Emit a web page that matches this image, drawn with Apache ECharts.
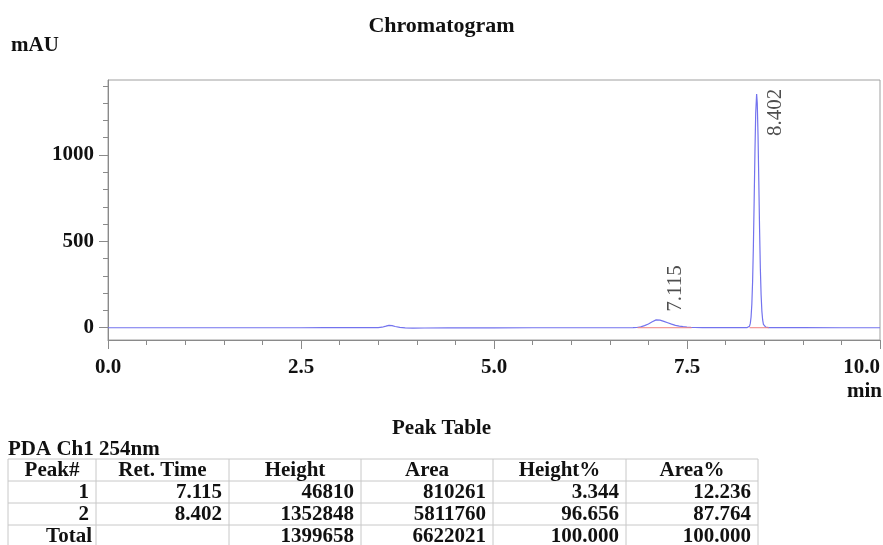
<!DOCTYPE html>
<html><head><meta charset="utf-8">
<script src="https://cdn.jsdelivr.net/npm/echarts@6/dist/echarts.min.js"></script>
<style>html,body{margin:0;padding:0;background:#fff}#c{width:883px;height:545px}</style>
</head><body><div id="c"></div>
<script>
// ---- data ----
const traceTime = [0,0.5,1,1.5,2,2.5,2.8,3.0,3.2,3.4,3.5,3.55,3.6,3.64,3.68,3.72,3.78,3.85,3.95,4.1,4.4,5,5.5,6,6.5,6.8,6.85,6.9,6.95,7.0,7.05,7.1,7.115,7.15,7.2,7.25,7.3,7.35,7.4,7.45,7.5,7.55,7.6,7.7,7.8,8.0,8.2,8.28,8.3,8.31,8.32,8.33,8.34,8.35,8.36,8.37,8.38,8.39,8.402,8.41,8.42,8.43,8.44,8.45,8.46,8.47,8.48,8.49,8.5,8.52,8.56,8.6,9,9.5,10];
const traceSignal = [0,0,0,0,0,0,0.5,1,1,0.5,1,3,9,14,12,7,2,-1,-2,-1.5,-1,-0.5,0,0,0,0.5,1.5,5,12,22,35,45.5,46.8,44,37,29,21,14,9,6,4,2.5,1.5,0.8,0.5,0.3,0.3,1,2,9,25,62,137,270,473,737,1014,1242,1352.8,1302,1116,849,574,344,190,95,45,20,9,3,1,0.5,0.3,0,0];
const baselineSegments = [[6.86, 7.56], [8.31, 8.56]];
const peakRetTimes = [7.115, 8.402];
const peakLabels = ['7.115', '8.402'];
const peakHeightsMAU = [46.810, 1352.848];
const xTickValues = [0, 2.5, 5, 7.5, 10];
const yLabelValues = [0, 500, 1000];
const yMinorTicks = [100,200,300,400,600,700,800,900,1100,1200,1300,1400];
const tableTitle = 'Peak Table';
const channelName = 'PDA Ch1 254nm';
const tableHeaders = ['Peak#', 'Ret. Time', 'Height', 'Area', 'Height%', 'Area%'];
const tablePeakNo = ['1', '2', 'Total'];
const tableRetTime = ['7.115', '8.402', ''];
const tableHeight = ['46810', '1352848', '1399658'];
const tableArea = ['810261', '5811760', '6622021'];
const tableHeightPct = ['3.344', '96.656', '100.000'];
const tableAreaPct = ['12.236', '87.764', '100.000'];

// ---- layout ----
const FONT = "'Liberation Serif','Times New Roman',serif";
const FS = 21;
const colEdges = [8, 96, 229, 361, 493, 626, 758];
const rowEdges = [459, 481, 503, 525, 547];
const gridLine = '#c8c8c8';
const peakLabelOffsets = [[18, -8], [19, 42]];

const chart = echarts.init(document.getElementById('c'), null, {renderer: 'canvas'});

const series = [{
  type: 'line', xAxisIndex: 0, yAxisIndex: 0,
  data: traceTime.map((t, i) => [t, traceSignal[i]]),
  showSymbol: false, symbol: 'none', smooth: false,
  lineStyle: {color: '#7373ee', width: 1.2}, z: 3, silent: true
}];
baselineSegments.forEach(seg => {
  series.push({
    type: 'line', xAxisIndex: 0, yAxisIndex: 0,
    data: [[seg[0], 0], [seg[1], 0]], showSymbol: false, symbol: 'none',
    lineStyle: {color: '#f08080', width: 1}, z: 4, silent: true
  });
});
series.push({
  type: 'scatter', xAxisIndex: 0, yAxisIndex: 0, symbolSize: 0, silent: true, z: 5,
  data: peakRetTimes.map((t, i) => ({
    value: [t, peakHeightsMAU[i]],
    label: {
      show: true, formatter: peakLabels[i], rotate: 90,
      position: peakLabelOffsets[i], align: 'left', verticalAlign: 'middle',
      fontFamily: FONT, fontSize: FS, color: '#222'
    }
  }))
});

// table graphics
const g = [];
g.push({type: 'text', left: 'center', top: 418, style: {text: tableTitle, font: `bold ${FS}px ${FONT}`, fill: '#111'}});
g.push({type: 'text', x: 8, y: 450, style: {text: channelName, font: `bold ${FS}px ${FONT}`, fill: '#111', verticalAlign: 'middle'}});
rowEdges.forEach(y => g.push({type: 'line', shape: {x1: colEdges[0], y1: y, x2: colEdges[colEdges.length - 1], y2: y}, style: {stroke: gridLine, lineWidth: 1}}));
colEdges.forEach(x => g.push({type: 'line', shape: {x1: x, y1: rowEdges[0], x2: x, y2: rowEdges[rowEdges.length - 1]}, style: {stroke: gridLine, lineWidth: 1}}));
tableHeaders.forEach((h, c) => g.push({type: 'text', x: (colEdges[c] + colEdges[c + 1]) / 2, y: (rowEdges[0] + rowEdges[1]) / 2 + 1,
  style: {text: h, font: `bold ${FS}px ${FONT}`, fill: '#111', align: 'center', verticalAlign: 'middle'}}));
const cols = [tablePeakNo, tableRetTime, tableHeight, tableArea, tableHeightPct, tableAreaPct];
for (let r = 0; r < 3; r++) {
  cols.forEach((col, c) => {
    const isTotal = (c === 0 && r === 2);
    g.push({type: 'text', x: colEdges[c + 1] - (isTotal ? 4 : 7), y: (rowEdges[r + 1] + rowEdges[r + 2]) / 2 + 1,
      style: {text: col[r], font: `bold ${FS}px ${FONT}`, fill: '#111', align: 'right', verticalAlign: 'middle'}});
  });
}
g.push({type: 'text', x: 882, y: 392, style: {text: 'min', font: `bold ${FS}px ${FONT}`, fill: '#111', align: 'right', verticalAlign: 'middle'}});
g.push({type: 'text', x: 11, y: 46, style: {text: 'mAU', font: `bold ${FS}px ${FONT}`, fill: '#111', align: 'left', verticalAlign: 'middle'}});

const axisGray = '#8a8a8a';
chart.setOption({
  animation: false,
  backgroundColor: '#fff',
  title: {text: 'Chromatogram', left: 'center', top: 10, textStyle: {fontFamily: FONT, fontSize: 22, fontWeight: 'bold', color: '#111'}},
  grid: {left: 108, right: 1, top: 80, bottom: 205, show: true, borderColor: '#a0a0a0', borderWidth: 1, containLabel: false},
  xAxis: [{
    type: 'value', min: 0, max: 10, interval: 2.5,
    axisLine: {show: true, onZero: false, lineStyle: {color: axisGray, width: 1}},
    axisTick: {show: true, inside: false, length: 9, lineStyle: {color: axisGray}},
    minorTick: {show: true, splitNumber: 5, length: 5, lineStyle: {color: axisGray}},
    splitLine: {show: false}, minorSplitLine: {show: false},
    axisLabel: {show: true, margin: 17, fontFamily: FONT, fontSize: FS, fontWeight: 'bold', color: '#111',
      formatter: v => v.toFixed(1), showMinLabel: true, showMaxLabel: true, alignMaxLabel: 'right',
      customValues: xTickValues}
  }],
  yAxis: [{
    type: 'value', min: -71, max: 1434,
    axisLine: {show: true, onZero: false, lineStyle: {color: axisGray, width: 1}},
    axisTick: {show: true, inside: false, length: 9, lineStyle: {color: axisGray}, customValues: yLabelValues},
    splitLine: {show: false},
    axisLabel: {show: true, margin: 14, fontFamily: FONT, fontSize: FS, fontWeight: 'bold', color: '#111',
      customValues: yLabelValues, formatter: v => String(Math.round(v))}
  }, {
    type: 'value', min: -71, max: 1434, position: 'left', offset: 0,
    axisLine: {show: false},
    axisTick: {show: true, inside: false, length: 5, lineStyle: {color: axisGray}, customValues: yMinorTicks},
    splitLine: {show: false},
    axisLabel: {show: false}
  }],
  graphic: g,
  series: series
});
</script></body></html>
